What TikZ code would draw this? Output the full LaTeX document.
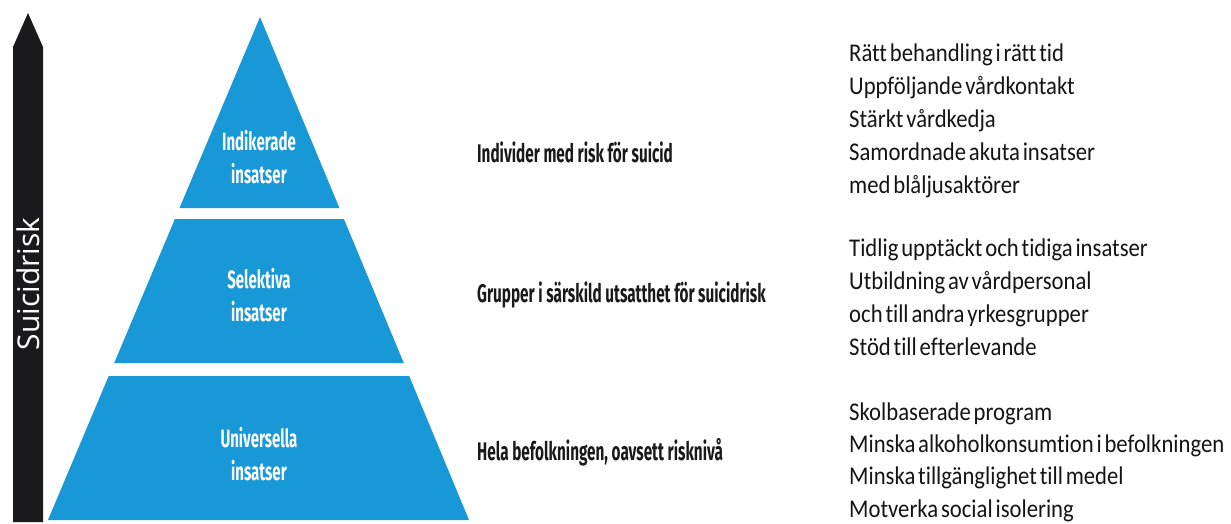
\documentclass[tikz,border=0pt]{standalone}
\usepackage{fontspec}
\setmainfont{Carlito}[FakeStretch=0.89, Ligatures=NoCommon, WordSpace=0.55]
\newfontfamily\condf[FakeStretch=0.6]{Fira Sans}
\newfontfamily\riskf{Open Sans}
\definecolor{pyrblue}{RGB}{24,152,214}
\definecolor{barblack}{RGB}{26,26,28}
\begin{document}
\begin{tikzpicture}[x=1pt,y=-1pt,
  tier/.style={fill=pyrblue, draw=none},
  tierlabel/.style={text=white, font=\condf\bfseries\fontsize{25}{33}\selectfont, align=center, inner sep=0pt},
  midlabel/.style={font=\condf\bfseries\fontsize{25.5}{28}\selectfont, anchor=base west, text=black!90, inner sep=0pt},
  listline/.style={font=\fontsize{25.5}{33}\selectfont, anchor=base west, inner sep=0pt, text=black!92}]
\useasboundingbox (0,0) rectangle (1231,524);
% risk arrow
\fill[barblack] (13,522) -- (13,47) -- (28,13) -- (43,47) -- (43,522) -- cycle;
\node[rotate=90, text=white, font=\riskf\fontsize{30}{30}\selectfont, inner sep=0pt] (risk) at (28.5,284) {Suicidrisk};
% pyramid tiers
\fill[tier] (260,17) -- (339.4,208) -- (179.5,208) -- cycle;
\fill[tier] (174.9,219) -- (343.9,219) -- (403.8,363) -- (114.2,363) -- cycle;
\fill[tier] (108.7,376) -- (409.2,376) -- (469,520) -- (48,520) -- cycle;
\node[tierlabel] (t1) at (259,157) {Indikerade\\insatser};
\node[tierlabel] (t2) at (259,295) {Selektiva\\insatser};
\node[tierlabel] (t3) at (259,454) {Universella\\insatser};
% middle labels
\node[midlabel] (m1) at (477,162) {Individer med risk för suicid};
\node[midlabel] (m2) at (477,302) {Grupper i särskild utsatthet för suicidrisk};
\node[midlabel] (m3) at (477,460) {Hela befolkningen, oavsett risknivå};
% right lists
\foreach \txt [count=\i] in {Rätt behandling i rätt tid, Uppföljande vårdkontakt, Stärkt vårdkedja, Samordnade akuta insatser, med blåljusaktörer}
  \node[listline] (a\i) at (849,{62+32.75*(\i-1)}) {\txt};
\foreach \txt [count=\i] in {Tidlig upptäckt och tidiga insatser, Utbildning av vårdpersonal, och till andra yrkesgrupper, Stöd till efterlevande}
  \node[listline] (b\i) at (849,{256+33*(\i-1)}) {\txt};
\foreach \txt [count=\i] in {Skolbaserade program, Minska alkoholkonsumtion i befolkningen, Minska tillgänglighet till medel, Motverka social isolering}
  \node[listline] (c\i) at (849,{420+32.4*(\i-1)}) {\txt};
\end{tikzpicture}
\end{document}
